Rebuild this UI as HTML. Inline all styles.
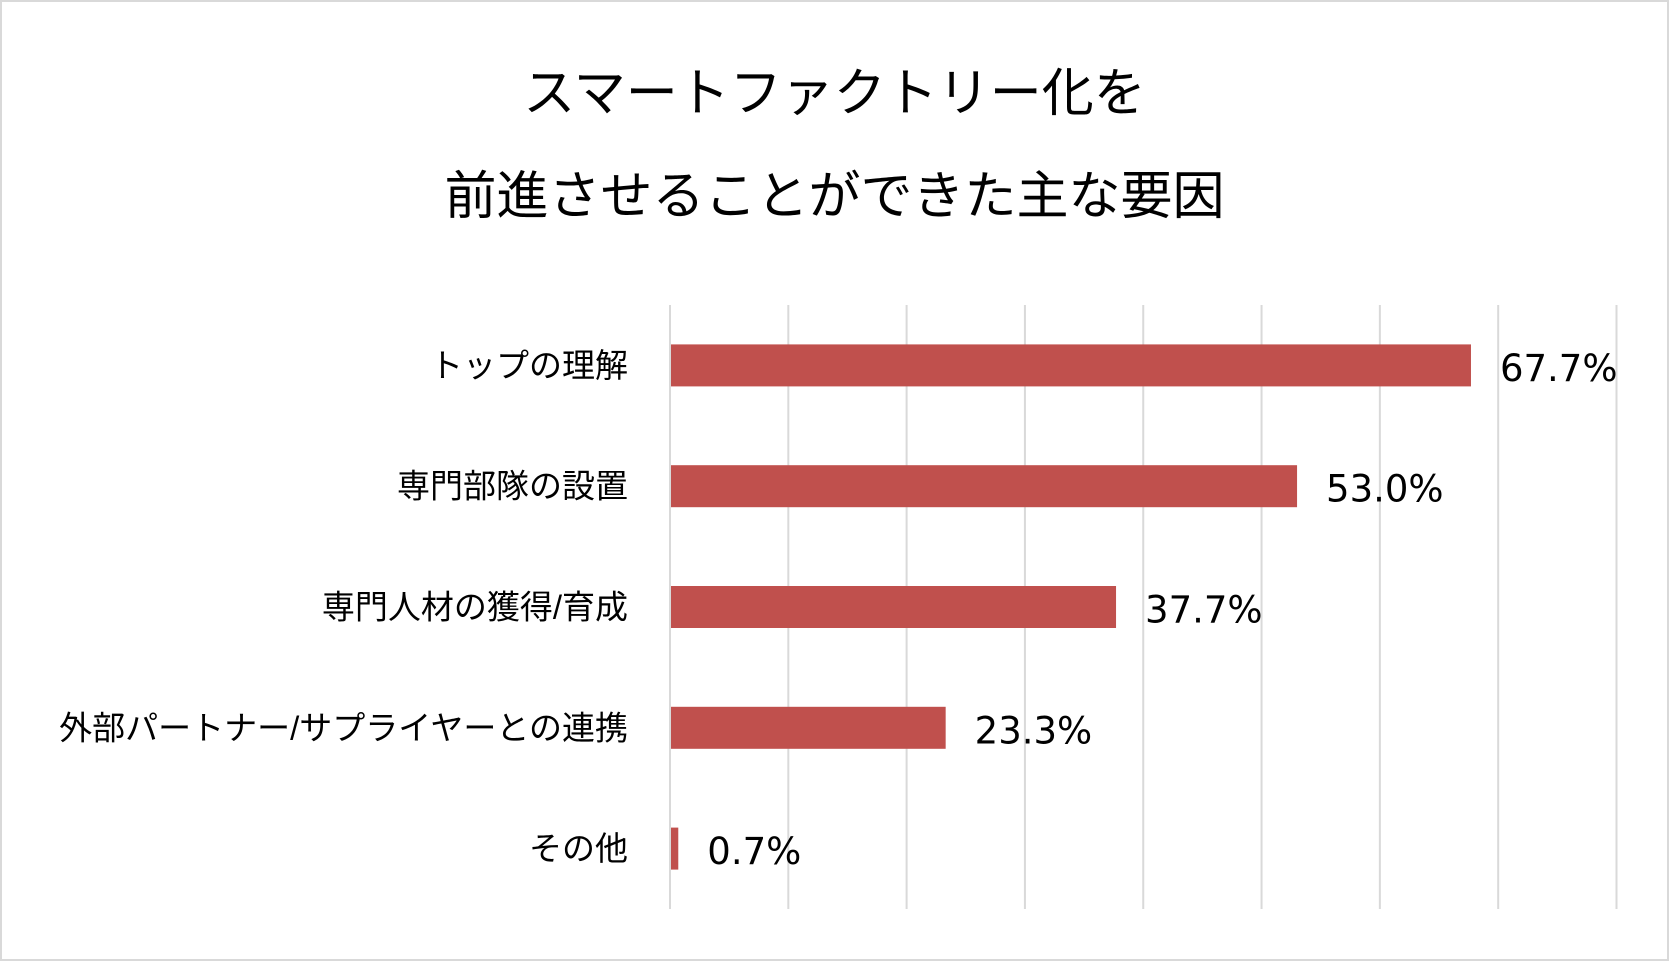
<!DOCTYPE html>
<html><head><meta charset="utf-8">
<style>
html,body{margin:0;padding:0;background:#fff;}
#wrap{position:relative;width:1669px;height:961px;box-sizing:border-box;border:2px solid #d9d9d9;background:#fff;overflow:hidden;}
.title{position:absolute;left:0;width:1665px;text-align:center;font-family:"Liberation Sans","Noto Sans CJK JP",sans-serif;font-size:52px;color:#000;line-height:1;}
</style></head>
<body>
<div id="wrap">
<div class="title" style="top:66px">スマートファクトリー化を</div>
<div class="title" style="top:169px">前進させることができた主な要因</div>
<svg id="chart" width="1669" height="961" style="position:absolute;left:-2px;top:-2px"></svg>
</div>
<script>
const categories = ["トップの理解","専門部隊の設置","専門人材の獲得/育成","外部パートナー/サプライヤーとの連携","その他"];
const values = [67.7, 53.0, 37.7, 23.3, 0.7];
const valueLabels = ["67.7%","53.0%","37.7%","23.3%","0.7%"];
const gridTicks = [0,10,20,30,40,50,60,70,80];

const NS = "http://www.w3.org/2000/svg";
const svg = document.getElementById('chart');
const x0 = 670, x1 = 1616.5, xMax = 80;
const yTop = 305, yBot = 909;
const band = (yBot - yTop) / categories.length;
const barH = 42;
function xScale(v){ return x0 + (x1 - x0) * v / xMax; }
function yCenter(i){ return yTop + band * (i + 0.5); }

gridTicks.forEach(t => {
  const l = document.createElementNS(NS, 'line');
  
  
  l.setAttribute('x1', xScale(t)); l.setAttribute('x2', xScale(t));
  l.setAttribute('y1', yTop); l.setAttribute('y2', yBot);
  l.setAttribute('stroke', '#d9d9d9'); l.setAttribute('stroke-width', '2');
  svg.appendChild(l);
});

categories.forEach((c, i) => {
  const cy = yCenter(i);
  const r = document.createElementNS(NS, 'rect');
  
  
  r.setAttribute('x', x0 + 1);
  r.setAttribute('y', cy - barH / 2);
  r.setAttribute('width', Math.max(0, xScale(values[i]) - x0 - 1));
  r.setAttribute('height', barH);
  r.setAttribute('fill', '#c0504d');
  svg.appendChild(r);

  const lab = document.createElementNS(NS, 'text');
  
  
  lab.setAttribute('x', 628);
  lab.setAttribute('y', cy);
  lab.setAttribute('text-anchor', 'end');
  lab.setAttribute('dominant-baseline', 'central');
  lab.setAttribute('font-family', '"Liberation Sans","Noto Sans CJK JP",sans-serif');
  lab.setAttribute('font-size', '33');
  lab.setAttribute('fill', '#000');
  lab.textContent = c;
  svg.appendChild(lab);

  const v = document.createElementNS(NS, 'text');
  
  
  v.setAttribute('x', xScale(values[i]) + 29);
  v.setAttribute('y', cy + 3);
  v.setAttribute('dominant-baseline', 'central');
  v.setAttribute('font-family', '"DejaVu Sans",sans-serif');
  v.setAttribute('font-size', '37');
  v.setAttribute('fill', '#000');
  v.textContent = valueLabels[i];
  svg.appendChild(v);
});
</script>
</body></html>
